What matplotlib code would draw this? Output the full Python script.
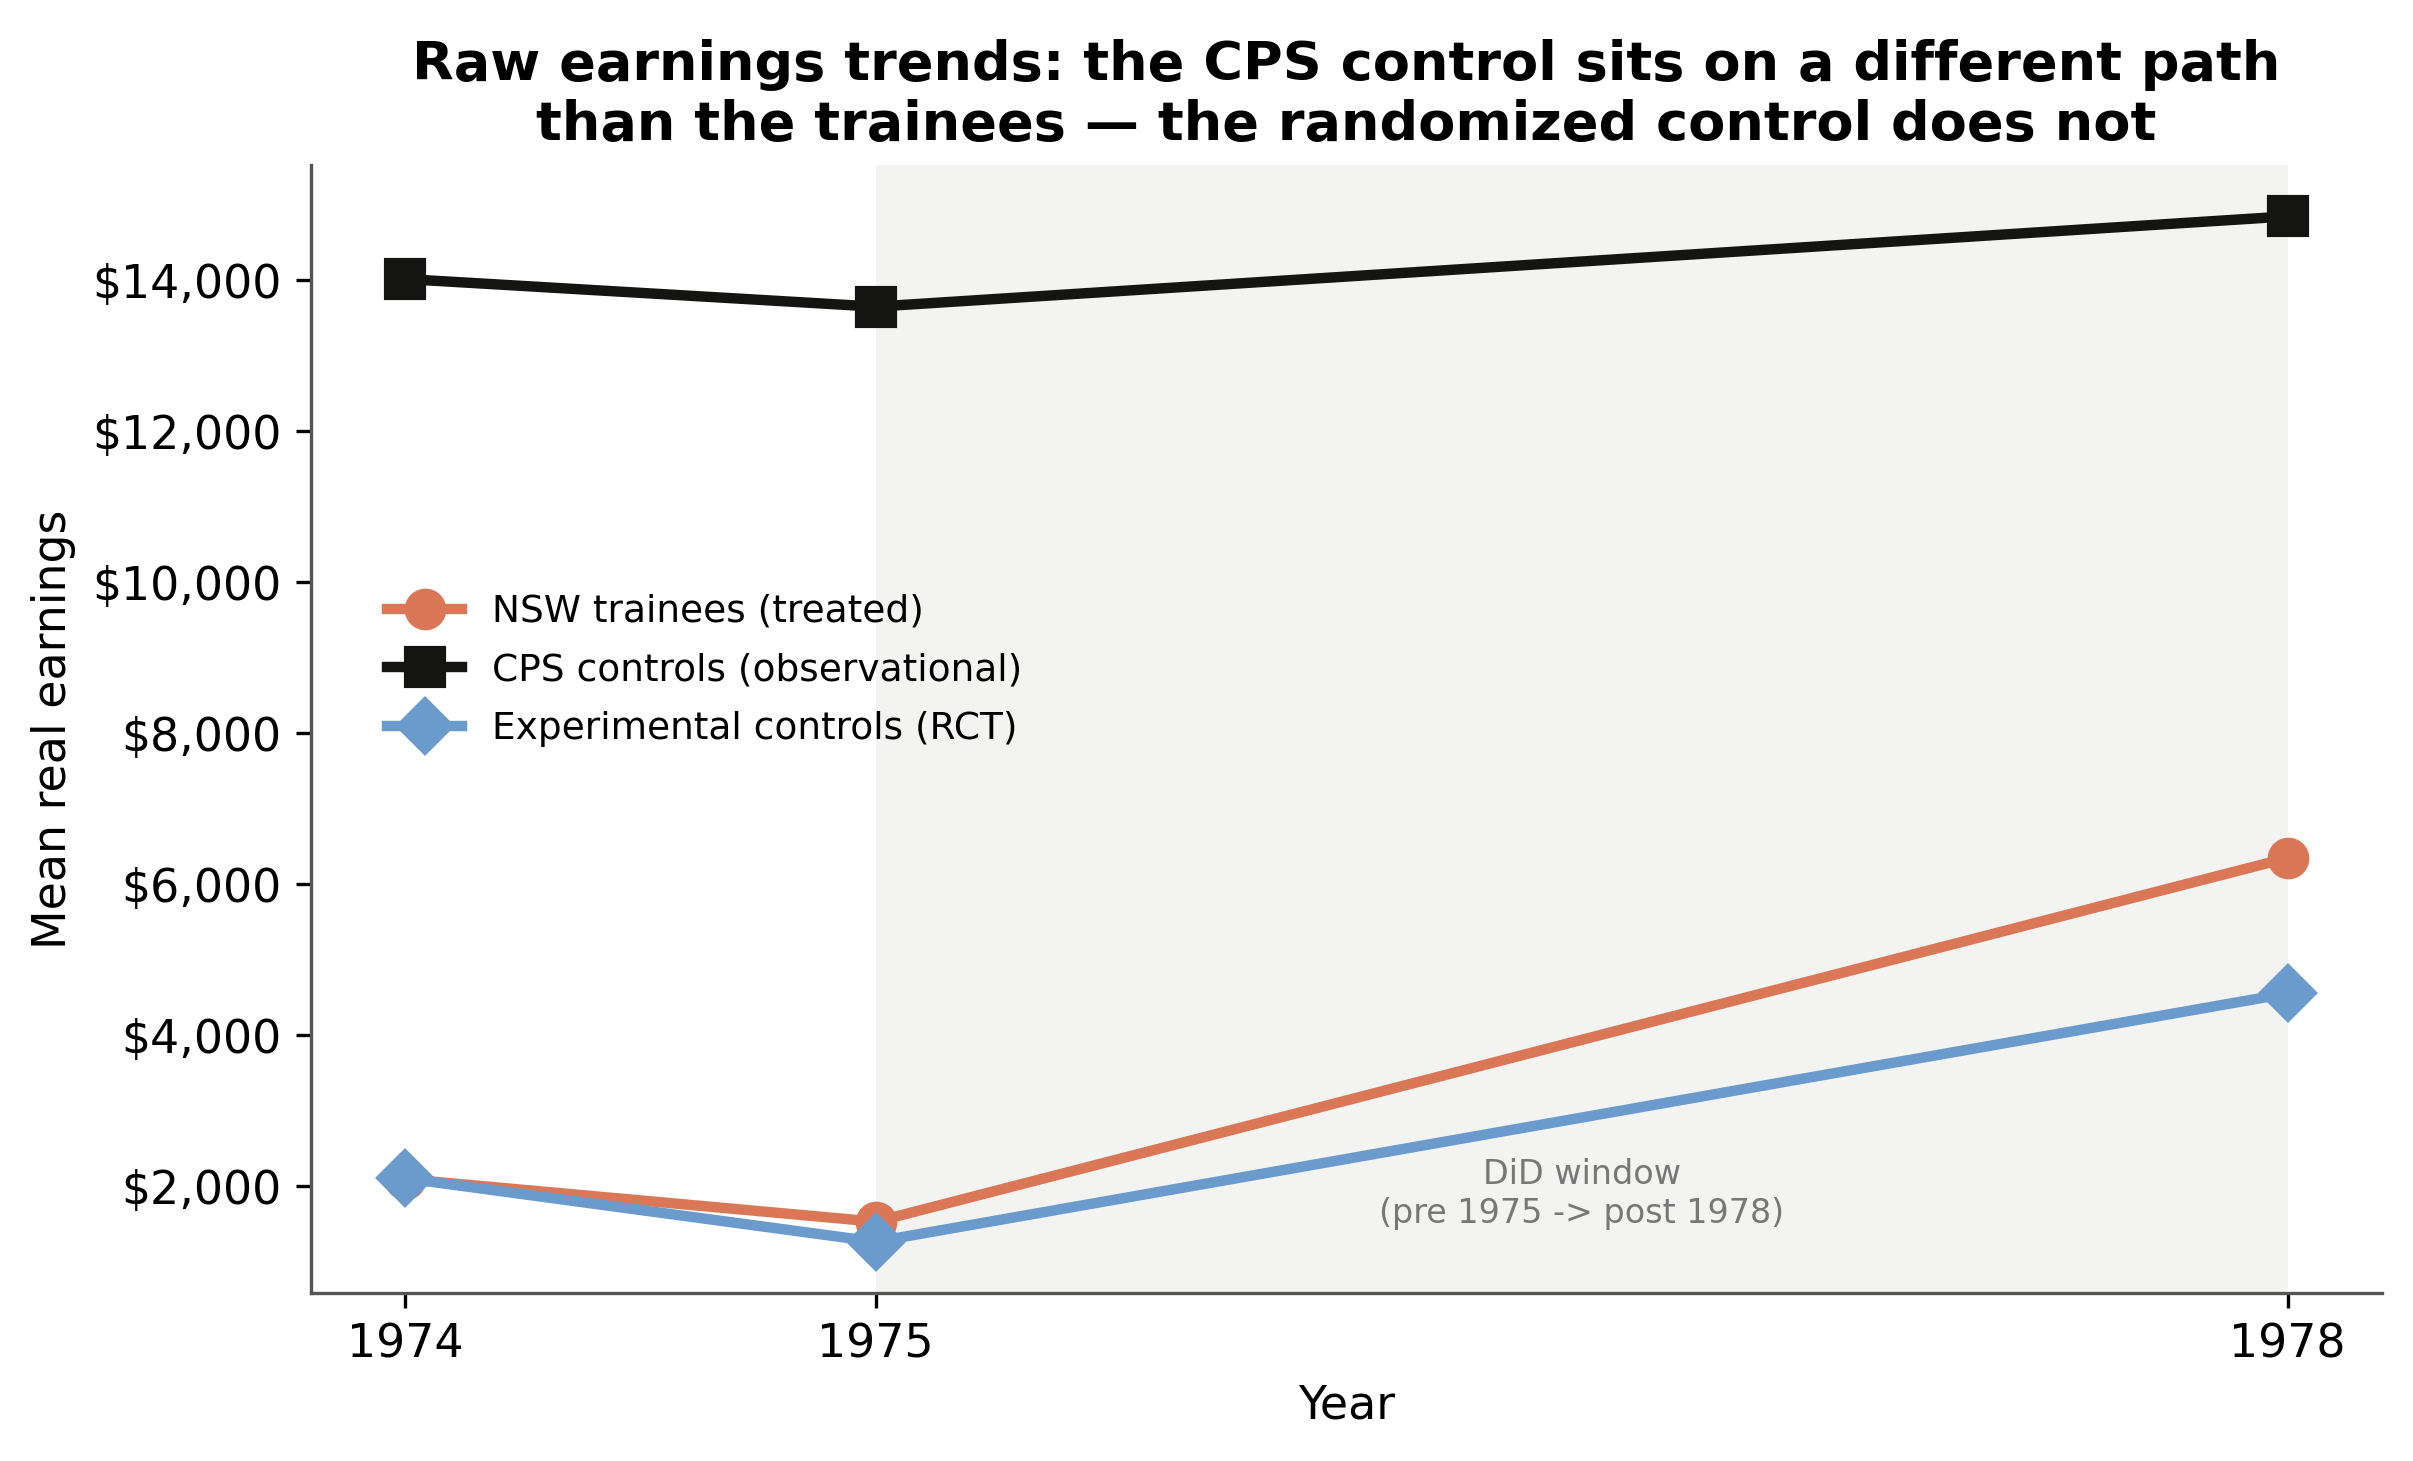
import matplotlib
matplotlib.use("Agg")
import matplotlib.pyplot as plt
from matplotlib.ticker import FuncFormatter

years = [1974, 1975, 1978]
nsw_treated = [2096, 1532, 6349]
cps_controls = [14017, 13651, 14847]
rct_controls = [2107, 1267, 4555]

labels = ["NSW trainees (treated)", "CPS controls (observational)", "Experimental controls (RCT)"]
colors = ["#D97757", "#141413", "#6A9BCC"]
markers = ["o", "s", "D"]

title = ("Raw earnings trends: the CPS control sits on a different path\n"
         "than the trainees \u2014 the randomized control does not")

fig = plt.figure(figsize=(2413 / 300, 1461 / 300), dpi=300)
ax = fig.add_axes([0.1289, 0.115, 0.8581, 0.772])

ax.axvspan(1975, 1978, color="#F3F3F1", zorder=0, lw=0)

for vals, lab, c, m in zip([nsw_treated, cps_controls, rct_controls], labels, colors, markers):
    ax.plot(years, vals, color=c, marker=m, ms=9, lw=2.5, label=lab, zorder=3)

ax.text(1976.5, 1900, "DiD window\n(pre 1975 -> post 1978)", ha="center", va="center",
        fontsize=8, color="#777777")

ax.set_xticks(years)
ax.set_xticklabels([str(y) for y in years])
ax.yaxis.set_major_formatter(FuncFormatter(lambda v, p: f"${v:,.0f}"))
ax.tick_params(labelsize=11)
ax.set_xlabel("Year", fontsize=11)
ax.set_ylabel("Mean real earnings", fontsize=11)
ax.set_title(title, fontsize=13, fontweight="bold")

for s in ["top", "right"]:
    ax.spines[s].set_visible(False)
for s in ["left", "bottom"]:
    ax.spines[s].set_color("#555555")
    ax.spines[s].set_linewidth(0.8)

ax.legend(loc="center left", bbox_to_anchor=(0.0205, 0.552), frameon=False, fontsize=9,
          labelspacing=0.6)

fig.savefig("out.png", dpi=300)
